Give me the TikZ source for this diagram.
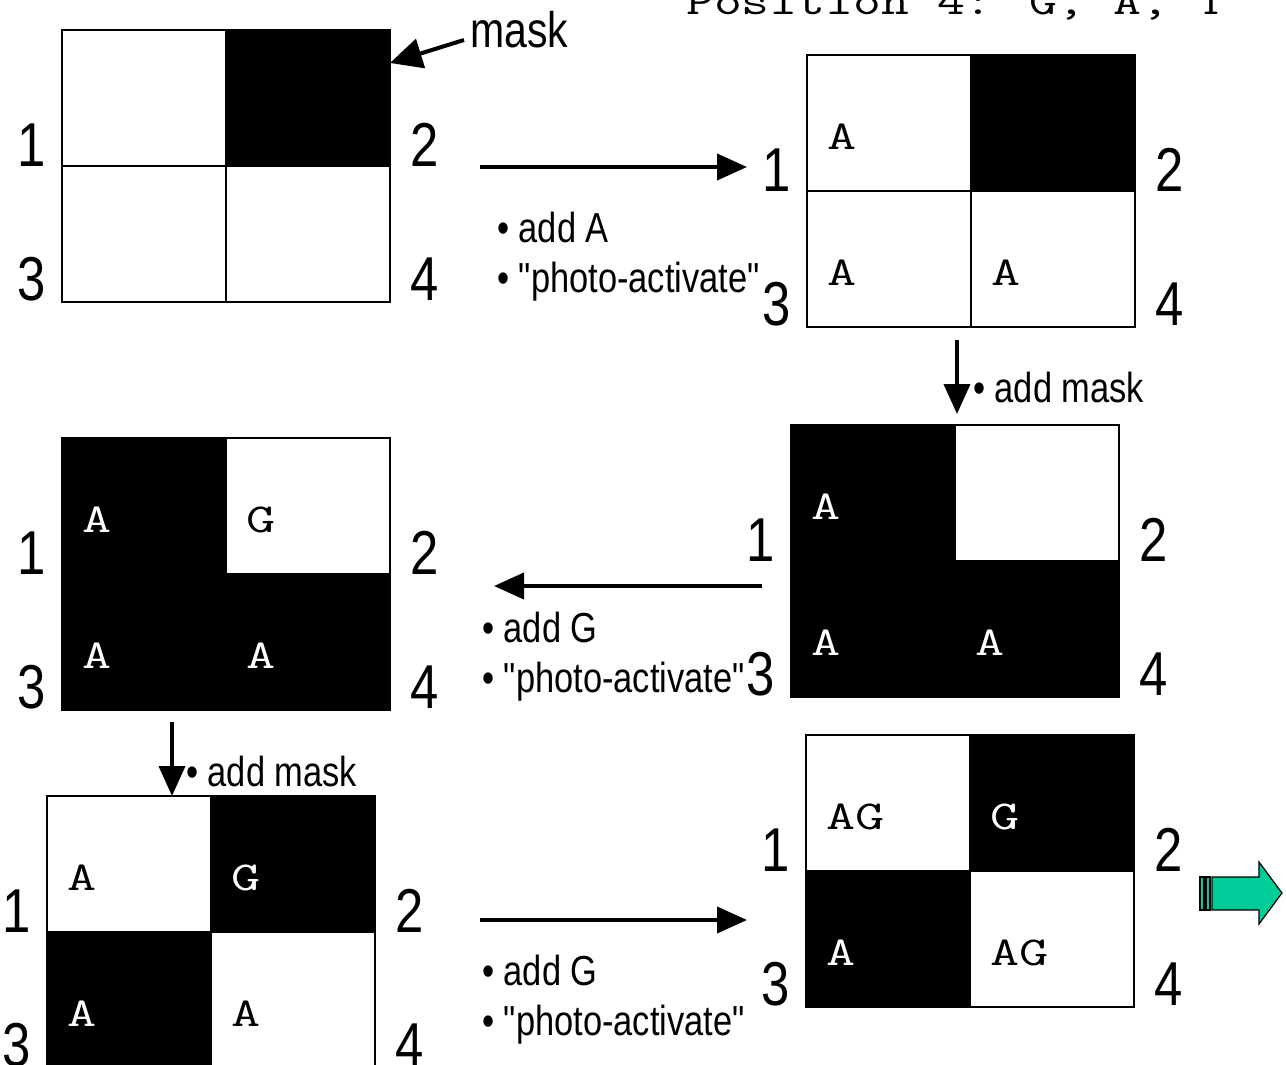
\documentclass[tikz,border=0pt]{standalone}
\usepackage{fontspec}
\usepackage{graphicx}
\usetikzlibrary{calc,arrows.meta}
\newfontfamily\narrowfont{Liberation Sans}[FakeStretch=0.82]
\newcommand\mt[1]{\scalebox{1.38}[1]{#1}}
\definecolor{arrgreen}{RGB}{0,204,153}
\tikzset{
  cell/.style={draw=black,line width=1.6pt,minimum width=164pt,minimum height=136pt,inner sep=0pt,outer sep=0pt,anchor=north west},
  lab/.style={inner sep=0pt,font=\narrowfont\fontsize{62}{62}\selectfont},
  bul/.style={inner sep=0pt,anchor=base west,font=\narrowfont\fontsize{42}{42}\selectfont},
  ltr/.style={inner sep=0pt,anchor=base west,font=\ttfamily\fontsize{41}{41}\selectfont},
  ltrw/.style={ltr,text=white},
  arr/.style={line width=4pt,-{Triangle[length=30pt,width=26pt]}},
}
\newcommand\mkgrid[7]{%
  \node[cell,fill=#4] (#1a) at (#2,#3) {};
  \node[cell,fill=#5] (#1b) at (#1a.north east) {};
  \node[cell,fill=#6] (#1c) at (#1a.south west) {};
  \node[cell,fill=#7] (#1d) at (#1a.south east) {};
  \node[lab,anchor=base east] (#1n1) at ($(#1a.north west)+(-16,136)$) {1};
  \node[lab,anchor=base west] (#1n2) at ($(#1b.north east)+(20,136)$) {2};
  \node[lab,anchor=base east] (#1n3) at ($(#1a.north west)+(-16,270)$) {3};
  \node[lab,anchor=base west] (#1n4) at ($(#1b.north east)+(20,270)$) {4};
}
\begin{document}
\begin{tikzpicture}[x=1pt,y=-1pt]
\useasboundingbox (0,0) rectangle (1286,1065);
\fill[white] (0,0) rectangle (1286,1065);

% top text (cut off at the top edge, as in the reference)
\node[ltr] (title) at (686,15) {\scalebox{1.32}[1]{Position 4: G, A, T}};

% grid 1
\mkgrid{g1}{62}{30}{white}{black}{white}{white}
% grid 2
\mkgrid{g2}{807}{55}{white}{black}{white}{white}
\node[ltr] (g2ta) at ($(g2a.north west)+(20,94)$) {\mt{A}};
\node[ltr] (g2tc) at ($(g2c.north west)+(20,94)$) {\mt{A}};
\node[ltr] (g2td) at ($(g2d.north west)+(20,94)$) {\mt{A}};
% grid 3
\mkgrid{g3}{791}{425}{black}{white}{black}{black}
\node[ltrw] (g3ta) at ($(g3a.north west)+(20,94)$) {\mt{A}};
\node[ltrw] (g3tc) at ($(g3c.north west)+(20,94)$) {\mt{A}};
\node[ltrw] (g3td) at ($(g3d.north west)+(20,94)$) {\mt{A}};
% grid 4
\mkgrid{g4}{62}{438}{black}{white}{black}{black}
\node[ltrw] (g4ta) at ($(g4a.north west)+(20,94)$) {\mt{A}};
\node[ltr]  (g4tb) at ($(g4b.north west)+(20,94)$) {\mt{G}};
\node[ltrw] (g4tc) at ($(g4c.north west)+(20,94)$) {\mt{A}};
\node[ltrw] (g4td) at ($(g4d.north west)+(20,94)$) {\mt{A}};
% grid 5
\mkgrid{g5}{47}{796}{white}{black}{black}{white}
\node[ltr]  (g5ta) at ($(g5a.north west)+(20,94)$) {\mt{A}};
\node[ltrw] (g5tb) at ($(g5b.north west)+(20,94)$) {\mt{G}};
\node[ltrw] (g5tc) at ($(g5c.north west)+(20,94)$) {\mt{A}};
\node[ltr]  (g5td) at ($(g5d.north west)+(20,94)$) {\mt{A}};
% grid 6
\mkgrid{g6}{806}{735}{white}{black}{black}{white}
\node[ltr]  (g6ta) at ($(g6a.north west)+(20,94)$) {\mt{AG}};
\node[ltrw] (g6tb) at ($(g6b.north west)+(20,94)$) {\mt{G}};
\node[ltrw] (g6tc) at ($(g6c.north west)+(20,94)$) {\mt{A}};
\node[ltr]  (g6td) at ($(g6d.north west)+(20,94)$) {\mt{AG}};

% mask label and arrow
\node[lab,anchor=base west,font=\narrowfont\fontsize{50}{50}\selectfont] (mask) at (470,48) {mask};
\coordinate (maskS) at (464,40);
\coordinate (maskE) at (390,63);
\draw[line width=4pt,-{Triangle[length=32pt,width=30pt]}] (maskS) -- (maskE);

% arrow 1
\coordinate (a1s) at (480,167);
\coordinate (a1e) at (747,167);
\draw[arr] (a1s) -- (a1e);
\node[bul] (t1a) at (497,242) {• add A};
\node[bul] (t1b) at (497,292) {• "photo-activate"};

% down arrow 1
\coordinate (d1s) at (957,340);
\coordinate (d1e) at (957,414);
\draw[arr] (d1s) -- (d1e);
\node[bul] (t2) at (973,402) {• add mask};

% arrow 2 (leftwards)
\coordinate (a2s) at (762,586);
\coordinate (a2e) at (494,586);
\draw[arr] (a2s) -- (a2e);
\node[bul] (t3a) at (482,642) {• add G};
\node[bul] (t3b) at (482,692) {• "photo-activate"};

% down arrow 2
\coordinate (d2s) at (172,722);
\coordinate (d2e) at (172,796);
\draw[arr] (d2s) -- (d2e);
\node[bul] (t4) at (186,786) {• add mask};

% arrow 3
\coordinate (a3s) at (480,920);
\coordinate (a3e) at (747,920);
\draw[arr] (a3s) -- (a3e);
\node[bul] (t5a) at (482,985) {• add G};
\node[bul] (t5b) at (482,1035) {• "photo-activate"};

% green block arrow
\filldraw[fill=arrgreen,draw=black,line width=1.2pt]
  (1212,877) -- (1259,877) -- (1259,862) -- (1282,893) -- (1259,924) -- (1259,910) -- (1212,910) -- cycle;
\filldraw[fill=arrgreen,draw=black,line width=1.2pt] (1200,877) rectangle (1204,910);
\filldraw[fill=arrgreen,draw=black,line width=1.2pt] (1206,877) rectangle (1210,910);
\end{tikzpicture}
\end{document}
